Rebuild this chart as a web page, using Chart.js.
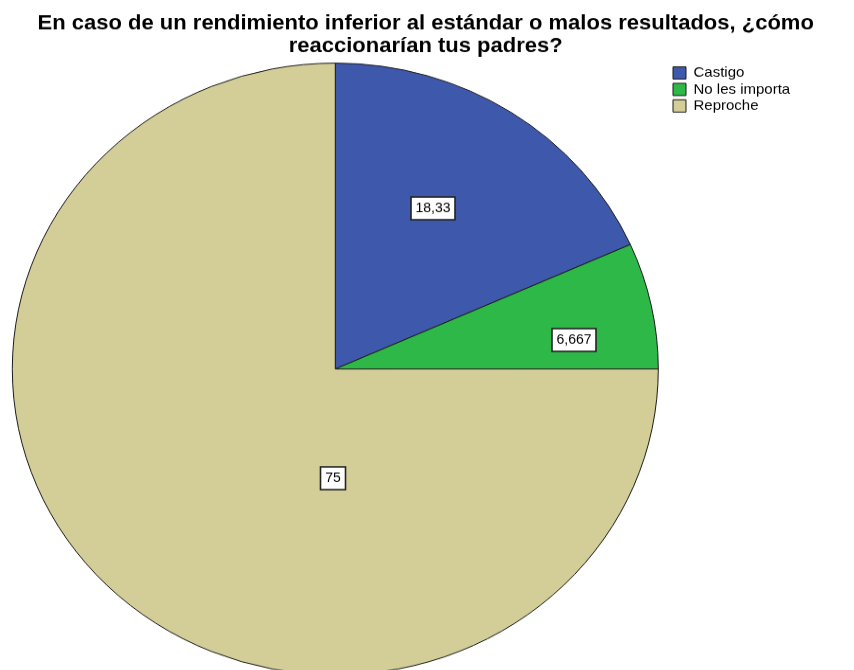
<!DOCTYPE html>
<html><head><meta charset="utf-8">
<script src="https://cdn.jsdelivr.net/npm/chart.js@4.4.0/dist/chart.umd.min.js"></script>
<style>
html,body{margin:0;padding:0;width:854px;height:670px;overflow:hidden;background:#fff}
#wrap{position:absolute;left:0;top:0;width:854px;height:720px;transform:scale(1,0.947);transform-origin:0 0}
canvas{display:block}
</style></head><body>
<div id="wrap"><canvas id="c" width="854" height="720"></canvas></div>
<script>
const titleLines = ['En caso de un rendimiento inferior al estándar o malos resultados, ¿cómo', 'reaccionarían tus padres?'];
const categories = ['Castigo', 'No les importa', 'Reproche'];
const percentages = [18.33, 6.667, 75];
const sliceColors = ['#3e58ac', '#2eb848', '#d3ce97'];
// label anchor inside each slice: fraction of the slice angle, fraction of radius
const labelAnchors = [{t: 0.455, r: 0.607}, {t: 0.696, r: 0.746}, {t: 0.337, r: 0.356}];

const LAYOUT = {cx: 334, cy: 389.6, radius: 323, legendBoxX: 673, legendPad: 2.4, H: 720, W: 854};

const valueLabels = {
  id: 'valueLabels',
  afterDatasetsDraw(chart) {
    const ctx = chart.ctx;
    const meta = chart.getDatasetMeta(0);
    ctx.save();
    ctx.font = '14px "Liberation Sans", Arial, sans-serif';
    ctx.textAlign = 'center';
    ctx.textBaseline = 'middle';
    meta.data.forEach((arc, i) => {
      const p = arc.getProps(['x', 'y', 'startAngle', 'endAngle', 'outerRadius'], true);
      const a = labelAnchors[i];
      const ang = p.startAngle + (p.endAngle - p.startAngle) * a.t;
      const rr = p.outerRadius * a.r;
      const x = Math.round(p.x + Math.cos(ang) * rr);
      const y = Math.round(p.y + Math.sin(ang) * rr);
      const txt = String(chart.data.datasets[0].data[i]).replace('.', ',');
      const w = Math.round(ctx.measureText(txt).width + 9);
      const h = 24;
      ctx.fillStyle = '#ffffff';
      ctx.fillRect(x - w / 2, y - h / 2, w, h);
      ctx.lineWidth = 1.6;
      ctx.strokeStyle = '#222';
      ctx.strokeRect(x - w / 2, y - h / 2, w, h);
      ctx.fillStyle = '#000';
      ctx.fillText(txt, x, y + 0.5);
    });
    ctx.restore();
  }
};

const pieChart = new Chart(document.getElementById('c'), {
  type: 'pie',
  data: {
    labels: categories,
    datasets: [{
      data: percentages,
      backgroundColor: sliceColors,
      borderColor: '#1b1b1b',
      borderWidth: 1,
      radius: LAYOUT.radius
    }]
  },
  options: {
    responsive: false,
    devicePixelRatio: 1,
    animation: false,
    radius: LAYOUT.radius,
    layout: {padding: {left: 0, right: 0, top: 0, bottom: 0}},
    plugins: {
      tooltip: {enabled: false},
      title: {
        display: true,
        text: titleLines,
        color: '#000',
        font: {family: '"Liberation Sans", Arial, sans-serif', size: 22, weight: 'bold', lineHeight: 1.105},
        padding: {top: 12.5, bottom: 6}
      },
      legend: {
        position: 'right',
        align: 'start',
        fullSize: false,
        labels: {
          boxWidth: 13,
          boxHeight: 13,
          padding: LAYOUT.legendPad,
          color: '#000',
          font: {family: '"Liberation Sans", Arial, sans-serif', size: 15}
        }
      }
    }
  },
  plugins: [valueLabels]
});

// widen the legend box on its right so the legend sits where the reference has it,
// and place the chart area so the pie centre lands where the reference has it
const legendLeft = LAYOUT.legendBoxX - LAYOUT.legendPad;
const legendEl = pieChart.legend;
const origFit = legendEl.fit;
legendEl.fit = function () {
  origFit.call(this);
  if (this.options.display) this.width = LAYOUT.W - legendLeft;
};
const areaTop = pieChart.chartArea.top;
pieChart.options.layout.padding = {
  left: 2 * LAYOUT.cx - legendLeft,
  right: 0,
  top: 0,
  bottom: LAYOUT.H + areaTop - 2 * LAYOUT.cy
};
pieChart.update('none');
</script>
</body></html>
